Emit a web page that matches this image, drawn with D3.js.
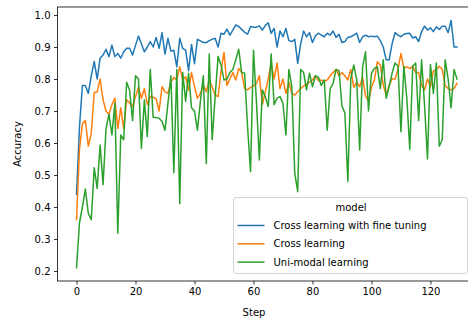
<!DOCTYPE html>
<html><head><meta charset="utf-8">
<script src="https://cdn.jsdelivr.net/npm/d3@7"></script>
<style>
body{margin:0;background:#fff;}
svg{display:block;font-family:"DejaVu Sans",sans-serif;}
</style>
</head><body>
<svg id="chart" width="468" height="318"></svg>
<script>
const seriesNames = ["Cross learning with fine tuning", "Cross learning", "Uni-modal learning"];
const seriesColors = ["#1f77b4", "#ff7f0e", "#2ca02c"];
const fineTuning = [
0.44,0.65,0.78,0.78,0.755,0.81,0.855,0.80,0.865,0.875,
0.893,0.87,0.906,0.87,0.88,0.865,0.885,0.896,0.896,0.875,
0.905,0.934,0.91,0.885,0.90,0.917,0.90,0.93,0.896,0.945,
0.878,0.927,0.887,0.89,0.838,0.927,0.896,0.89,0.826,0.908,
0.848,0.924,0.919,0.914,0.914,0.92,0.924,0.927,0.90,0.943,
0.94,0.956,0.937,0.953,0.969,0.964,0.955,0.946,0.94,0.964,
0.962,0.962,0.966,0.953,0.967,0.976,0.943,0.958,0.90,0.95,
0.932,0.958,0.92,0.917,0.924,0.849,0.91,0.95,0.932,0.945,
0.914,0.935,0.943,0.937,0.932,0.943,0.937,0.95,0.93,0.94,
0.914,0.917,0.93,0.932,0.937,0.943,0.914,0.932,0.937,0.932,
0.934,0.932,0.934,0.92,0.90,0.86,0.86,0.91,0.945,0.937,
0.932,0.94,0.942,0.943,0.928,0.932,0.917,0.948,0.965,0.953,
0.96,0.948,0.963,0.955,0.965,0.965,0.945,0.983,0.90,0.90];
const crossLearning = [
0.36,0.58,0.66,0.67,0.59,0.63,0.757,0.76,0.80,0.735,
0.70,0.69,0.72,0.74,0.645,0.71,0.645,0.735,0.725,0.714,
0.745,0.774,0.74,0.77,0.72,0.745,0.743,0.738,0.70,0.776,
0.76,0.755,0.79,0.805,0.797,0.838,0.797,0.807,0.765,0.82,
0.776,0.74,0.755,0.78,0.76,0.797,0.775,0.75,0.745,0.824,
0.883,0.78,0.80,0.82,0.797,0.833,0.82,0.77,0.766,0.774,
0.778,0.786,0.81,0.72,0.76,0.80,0.85,0.80,0.85,0.77,
0.80,0.755,0.79,0.755,0.75,0.76,0.77,0.778,0.785,0.79,
0.797,0.81,0.795,0.797,0.792,0.797,0.81,0.82,0.83,0.81,
0.82,0.81,0.797,0.83,0.774,0.79,0.776,0.805,0.747,0.73,
0.774,0.797,0.854,0.844,0.78,0.75,0.78,0.80,0.80,0.83,
0.88,0.833,0.838,0.833,0.84,0.82,0.82,0.78,0.766,0.80,
0.776,0.825,0.83,0.84,0.83,0.78,0.77,0.766,0.77,0.786];
const uniModal = [
0.21,0.35,0.40,0.456,0.38,0.36,0.523,0.458,0.594,0.47,
0.645,0.69,0.625,0.724,0.318,0.625,0.61,0.79,0.765,0.67,
0.81,0.80,0.583,0.734,0.62,0.83,0.68,0.68,0.677,0.667,
0.64,0.724,0.81,0.507,0.83,0.41,0.82,0.73,0.818,0.71,
0.70,0.64,0.73,0.81,0.535,0.878,0.61,0.745,0.87,0.844,
0.797,0.80,0.82,0.83,0.86,0.893,0.82,0.818,0.65,0.51,
0.89,0.73,0.547,0.766,0.745,0.714,0.878,0.72,0.74,0.745,
0.724,0.625,0.83,0.776,0.505,0.448,0.83,0.82,0.766,0.818,
0.776,0.81,0.806,0.78,0.797,0.64,0.77,0.786,0.83,0.826,
0.716,0.693,0.48,0.80,0.844,0.797,0.578,0.838,0.885,0.70,
0.818,0.833,0.838,0.77,0.86,0.74,0.776,0.818,0.85,0.84,
0.635,0.84,0.74,0.58,0.84,0.85,0.67,0.86,0.72,0.55,
0.845,0.755,0.85,0.59,0.61,0.86,0.80,0.71,0.83,0.80];
const xTicks = [0, 20, 40, 60, 80, 100, 120];
const yTicks = [0.2, 0.3, 0.4, 0.5, 0.6, 0.7, 0.8, 0.9, 1.0];
const legendTitle = "model";
const xLabel = "Step";
const yLabel = "Accuracy";

const allSeries = [fineTuning, crossLearning, uniModal];
const L = 57.5, R = 476, T = 7, B = 281;
const x = d3.scaleLinear().domain([-6.45, 135.45]).range([L, R]);
const y = d3.scaleLinear().domain([0.16875, 1.025]).range([B, T]);
const svg = d3.select("#chart");

const clip = svg.append("defs").append("clipPath").attr("id","clip")
  .append("rect").attr("x",L).attr("y",T).attr("width",R-L).attr("height",B-T);

const line = d3.line().x((d,i)=>x(i)).y(d=>y(d));
const g = svg.append("g").attr("clip-path","url(#clip)");
allSeries.forEach((s,k)=>{
  g.append("path").datum(s).attr("d",line)
   .attr("fill","none").attr("stroke",seriesColors[k])
   .attr("stroke-width",1.5).attr("stroke-linejoin","round").attr("stroke-linecap","square");
});

// axes
const xAxis = d3.axisBottom(x).tickValues(xTicks).tickSize(3.5).tickPadding(3.5).tickFormat(d3.format("d"));
const yAxis = d3.axisLeft(y).tickValues(yTicks).tickSize(3.5).tickPadding(3.5).tickFormat(d3.format(".1f"));
const gx = svg.append("g").attr("transform",`translate(0,${B})`).call(xAxis);
const gy = svg.append("g").attr("transform",`translate(${L},0)`).call(yAxis);
[gx,gy].forEach(a=>{
  a.select(".domain").remove();
  a.selectAll(".tick line").attr("stroke","#000").attr("stroke-width",0.8);
  a.selectAll(".tick text").attr("fill","#000").style("font-size","10px").style("font-family","DejaVu Sans");
});

// spines
svg.append("rect").attr("x",L).attr("y",T).attr("width",R-L).attr("height",B-T)
  .attr("fill","none").attr("stroke","#000").attr("stroke-width",0.8);

svg.append("text").attr("x",(L+431.5)/2 + 0).attr("y",316).attr("text-anchor","middle")
  .style("font-size","10px").text(xLabel).attr("x", 254);
svg.append("text").attr("transform",`translate(20.5,${(T+B)/2}) rotate(-90)`).attr("text-anchor","middle")
  .style("font-size","10px").text(yLabel);

// legend
const lg = svg.append("g");
lg.append("rect").attr("x",233.5).attr("y",197.5).attr("width",234).attr("height",76).attr("rx",2.5)
  .attr("fill","#fff").attr("fill-opacity",0.8).attr("stroke","#d5d5d5").attr("stroke-width",1);
lg.append("text").attr("x",351).attr("y",211).attr("text-anchor","middle").style("font-size","10px").text(legendTitle);
seriesNames.forEach((n,k)=>{
  const yy = 225.5 + k*18.3;
  lg.append("line").attr("x1",237.5).attr("x2",264.5).attr("y1",yy).attr("y2",yy)
    .attr("stroke",seriesColors[k]).attr("stroke-width",1.5);
  lg.append("text").attr("x",273.5).attr("y",yy+3.6).style("font-size","10px").text(n);
});
</script>
</body></html>
